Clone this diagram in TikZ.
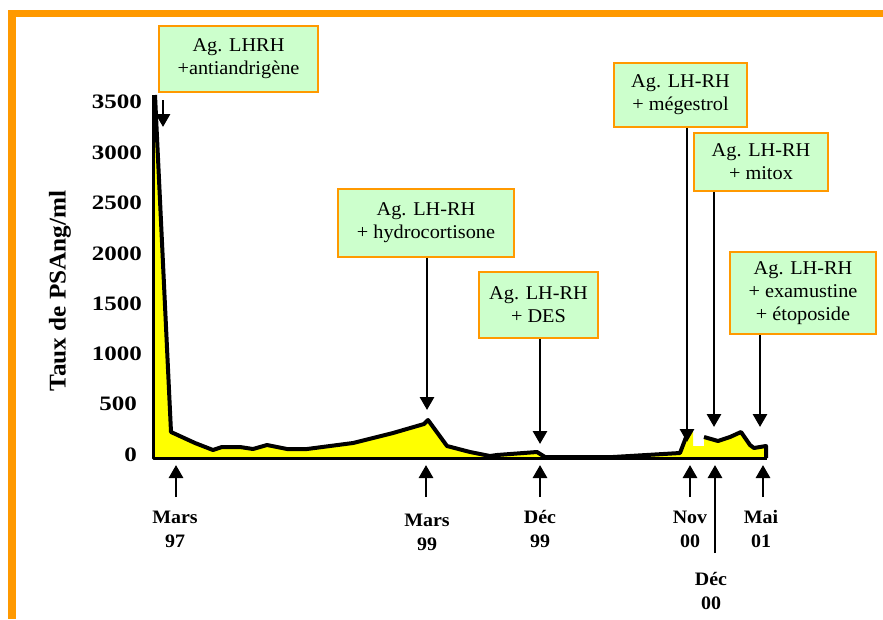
\documentclass[tikz,border=0pt]{standalone}
\usepackage{fontspec}
\setmainfont{Liberation Serif}
\newfontfamily\boxfont[FakeStretch=1.04]{Liberation Serif}
\newfontfamily\numfont[FakeStretch=1.22]{Liberation Serif}
\newfontfamily\monthfont[FakeStretch=1.05]{Liberation Serif}
\usetikzlibrary{arrows.meta}
\definecolor{frameorange}{RGB}{255,153,0}
\definecolor{boxgreen}{RGB}{204,255,204}
\definecolor{areayellow}{RGB}{255,255,0}
\begin{document}
\begin{tikzpicture}[x=1pt,y=-1pt,
  treatbox/.style={draw=frameorange, line width=1.5pt, fill=boxgreen, align=center, inner sep=0pt,
    font=\boxfont\fontsize{19.5}{23}\selectfont},
  downarrow/.style={line width=2.8pt, -{Triangle[width=14pt,length=13pt]}},
  ticklab/.style={anchor=east, inner sep=0pt, font=\numfont\bfseries\fontsize{20.5}{24}\selectfont},
  monthlab/.style={align=center, inner sep=0pt, font=\monthfont\bfseries\fontsize{19}{24}\selectfont}]
\useasboundingbox (0,0) rectangle (883,619);
\fill[white] (0,0) rectangle (883,619);
% orange frame
\fill[frameorange] (8,10) rectangle (883,17);
\fill[frameorange] (8,10) rectangle (16,619);

% area
\fill[areayellow] (153,95) -- (155,95) -- (171,432) -- (195,443) -- (213,450) -- (222,447) -- (240,447)
  -- (253,449) -- (267,445) -- (287,449) -- (307,449) -- (353,443) -- (393,433) -- (424,424) -- (428,420)
  -- (447,446) -- (470,452) -- (490,456) -- (497,455) -- (537,452) -- (545,457) -- (613,457) -- (680,453)
  -- (688,432) -- (693,432) -- (693,446) -- (704,446) -- (704,437) -- (718,441) -- (730,437) -- (741,432)
  -- (750,445) -- (754,448) -- (766,446) -- (766,458) -- (153,458) -- cycle;
\draw[line width=4pt, line join=round] (155,95) -- (171,432) -- (195,443) -- (213,450) -- (222,447) -- (240,447)
  -- (253,449) -- (267,445) -- (287,449) -- (307,449) -- (353,443) -- (393,433) -- (424,424) -- (428,420)
  -- (447,446) -- (470,452) -- (490,456) -- (497,455) -- (537,452) -- (545,457) -- (613,457) -- (680,453)
  -- (688,432);
\draw[line width=4pt, line join=round] (704,437) -- (718,441) -- (730,437) -- (741,432)
  -- (750,445) -- (754,448) -- (766,446) -- (766,458);
\draw[line width=3pt, line join=round] (153,95) -- (153,458) -- (767,458);

% y axis labels
\node[ticklab] (y3500) at (142,102) {3500};
\node[ticklab] (y3000) at (142,153) {3000};
\node[ticklab] (y2500) at (142,203) {2500};
\node[ticklab] (y2000) at (142,254) {2000};
\node[ticklab] (y1500) at (142,304) {1500};
\node[ticklab] (y1000) at (142,354) {1000};
\node[ticklab] (y500) at (137,404) {500};
\node[ticklab] (y0) at (137,455) {0};
\node[rotate=90, inner sep=0pt, font=\monthfont\bfseries\fontsize{24}{28}\selectfont] (ylab) at (60,291) {Taux de PSAng/ml};

% treatment boxes
\node[treatbox, minimum width=159, minimum height=66] (b1) at (238.5,59) {Ag. LHRH\\+antiandrigène};
\node[treatbox, minimum width=176, minimum height=68] (b2) at (426,223) {Ag. LH-RH\\+ hydrocortisone};
\node[treatbox, minimum width=119, minimum height=66] (b3) at (538.5,305) {Ag. LH-RH\\+ DES};
\node[treatbox, minimum width=133, minimum height=64] (b4) at (680.5,95) {Ag. LH-RH\\+ mégestrol};
\node[treatbox, minimum width=134, minimum height=58] (b5) at (761,162) {Ag. LH-RH\\+ mitox};
\node[treatbox, minimum width=146, minimum height=82] (b6) at (803,293) {Ag. LH-RH\\+ examustine\\+ étoposide};

% down arrows
\coordinate (s1) at (163,100);
\coordinate (t1) at (163,127);
\coordinate (t2) at (427,410);
\coordinate (t3) at (540,444);
\coordinate (t4) at (687,442);
\coordinate (t5) at (714,427);
\coordinate (t6) at (760,427);
\draw[downarrow] (s1) -- (t1);
\draw[downarrow] (b2.south -| t2) -- (t2);
\draw[downarrow] (b3.south -| t3) -- (t3);
\draw[downarrow] (b4.south -| t4) -- (t4);
\draw[downarrow] (b5.south -| t5) -- (t5);
\draw[downarrow] (b6.south -| t6) -- (t6);

% up arrows
\coordinate (p1) at (176,465); \coordinate (q1) at (176,497);
\coordinate (p2) at (426,465); \coordinate (q2) at (426,497);
\coordinate (p3) at (540,465); \coordinate (q3) at (540,497);
\coordinate (p4) at (690,465); \coordinate (q4) at (690,497);
\coordinate (p5) at (715,465); \coordinate (q5) at (715,553);
\coordinate (p6) at (763,465); \coordinate (q6) at (763,497);
\draw[downarrow] (q1) -- (p1);
\draw[downarrow] (q2) -- (p2);
\draw[downarrow] (q3) -- (p3);
\draw[downarrow] (q4) -- (p4);
\draw[downarrow] (q5) -- (p5);
\draw[downarrow] (q6) -- (p6);

% month labels
\node[monthlab] (m1) at (175,529) {Mars\\97};
\node[monthlab] (m2) at (427,532) {Mars\\99};
\node[monthlab] (m3) at (540,529) {Déc\\99};
\node[monthlab] (m4) at (690,529) {Nov\\00};
\node[monthlab] (m5) at (711,591) {Déc\\00};
\node[monthlab] (m6) at (761,529) {Mai\\01};
\end{tikzpicture}
\end{document}
